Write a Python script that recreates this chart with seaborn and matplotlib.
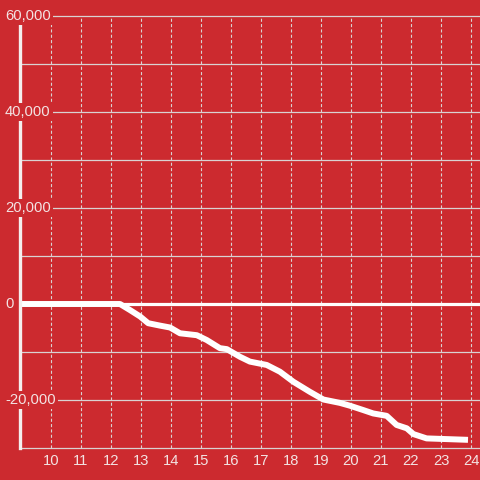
import matplotlib
matplotlib.use("Agg")
import matplotlib.pyplot as plt
import seaborn as sns
import pandas as pd

# Data
hours = [9.0, 12.3, 12.63, 12.97, 13.24, 13.63, 13.97, 14.3, 14.86, 15.19, 15.63, 15.86,
         16.3, 16.63, 17.19, 17.63, 18.08, 18.63, 19.08, 19.63, 19.97, 20.41, 20.74,
         21.19, 21.52, 21.86, 22.08, 22.52, 23.9]
values = [0, 0, -1250, -2600, -4000, -4500, -4900, -6100, -6500, -7500, -9200, -9400,
          -11000, -12000, -12700, -14100, -16200, -18300, -19900, -20600, -21200, -22100, -22800,
          -23300, -25200, -25900, -27100, -28000, -28300]
x_ticks = list(range(10, 25))
y_grid = list(range(-30000, 60001, 10000))
y_labels = [60000, 40000, 20000, 0, -20000]

RED = "#CC2A2F"
GRID = "#D9D2D2"
TXT = "#F3E3E3"

sns.set_theme(style="white")
plt.rcParams["font.family"] = ["Liberation Sans", "DejaVu Sans"]

fig = plt.figure(figsize=(4.8, 4.8), dpi=100)
fig.patch.set_facecolor(RED)
ax = fig.add_axes([20 / 480, 32 / 480, 460 / 480, 432 / 480])
ax.set_facecolor(RED)

df = pd.DataFrame({"hour": hours, "value": values})

ax.set_xlim(8.967, 24.3)
ax.set_ylim(-30000, 60000)

# grid
for yv in y_grid:
    ax.axhline(yv, color=GRID, lw=0.9, zorder=1, clip_on=False)
for xv in x_ticks:
    ax.axvline(xv, color=GRID, lw=0.8, ls=(0, (2.8, 2.0)), zorder=1)
ax.axhline(0, color="white", lw=2.3, zorder=2)

sns.lineplot(data=df, x="hour", y="value", ax=ax, color="white", lw=4.3,
             zorder=3, solid_joinstyle="round", solid_capstyle="butt")

for s in ["top", "right", "bottom"]:
    ax.spines[s].set_visible(False)
ax.spines["left"].set_color("#F4EEEE")
ax.spines["left"].set_linewidth(2.4)
ax.spines["left"].set_zorder(4)

ax.set_xticks(x_ticks)
ax.set_xticklabels([str(t) for t in x_ticks], color=TXT, fontsize=10.6)
ax.tick_params(axis="x", length=0, pad=4.5)
ax.set_yticks([])
ax.set_xlabel("")
ax.set_ylabel("")

for yv in y_labels:
    ax.text(-15 / 460, yv, f"{yv:,}", transform=ax.get_yaxis_transform(),
            ha="left", va="center", color=TXT, fontsize=10.6, zorder=5,
            bbox=dict(boxstyle="square,pad=0.15", facecolor=RED, edgecolor="none"),
            clip_on=False)

fig.savefig("out.png", dpi=100, facecolor=RED)
